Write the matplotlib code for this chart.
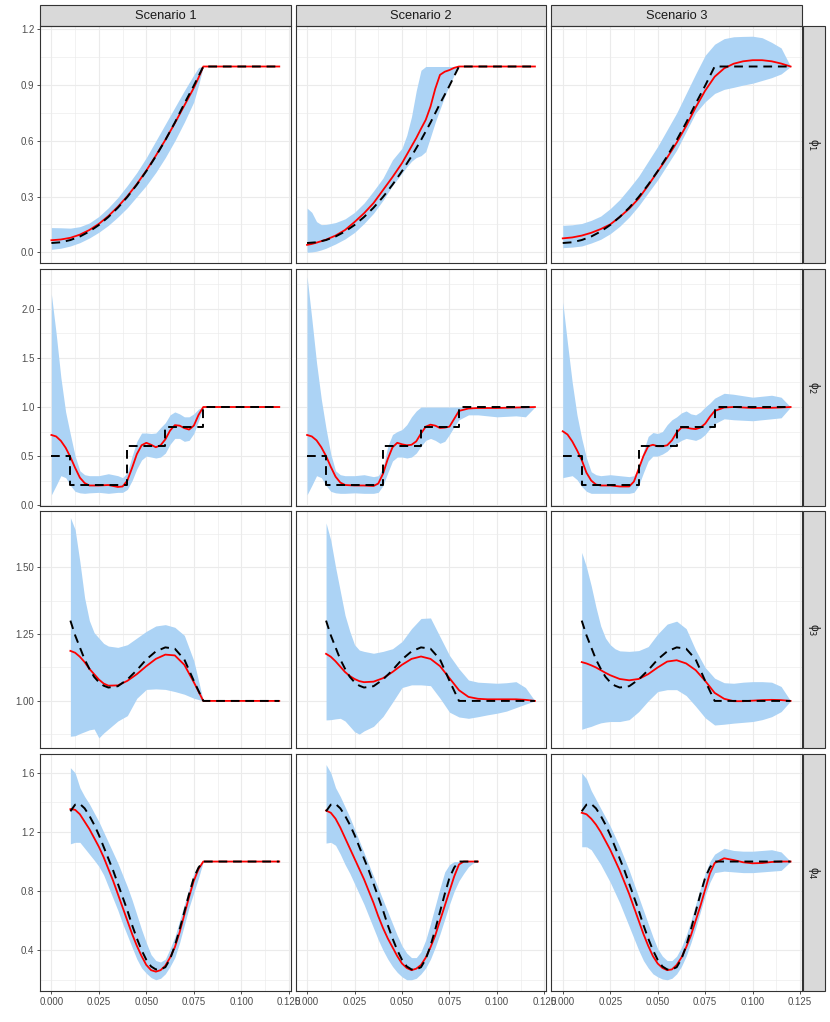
import matplotlib.pyplot as plt
from matplotlib.patches import Rectangle
import numpy as np

plt.rcParams["font.family"] = ["Liberation Sans", "DejaVu Sans"]

# =============================================================================
# Data: true curves (dashed), flat tail at 1.0 up to the end of each scenario
# =============================================================================

phi1_x = [0, 0.005, 0.01, 0.015, 0.02, 0.025, 0.03, 0.035, 0.04, 0.045, 0.05,
          0.055, 0.06, 0.065, 0.07, 0.075, 0.08]
phi1_y = [0.050, 0.054, 0.066, 0.085, 0.112, 0.147, 0.19, 0.24, 0.298, 0.364,
          0.437, 0.517, 0.604, 0.698, 0.8, 0.897, 1.0]

phi2_x = [0, 0.01, 0.04, 0.06, 0.08]
phi2_y = [0.5, 0.2, 0.6, 0.8, 1.0]

phi3_x = [0.01, 0.0125, 0.015, 0.0175, 0.02, 0.0225, 0.025, 0.0275, 0.03, 0.035,
          0.04, 0.045, 0.05, 0.055, 0.06, 0.065, 0.07, 0.075, 0.08]
phi3_y = [1.30, 1.245, 1.20, 1.155, 1.12, 1.09, 1.07, 1.057, 1.05, 1.055, 1.08,
          1.115, 1.155, 1.185, 1.2, 1.195, 1.155, 1.075, 1.0]

phi4_x = [0.01, 0.0125, 0.015, 0.0175, 0.02, 0.0225, 0.025, 0.0275, 0.03, 0.0325,
          0.035, 0.0375, 0.04, 0.0425, 0.045, 0.0475, 0.05, 0.0525, 0.055, 0.0575,
          0.06, 0.0625, 0.065, 0.0675, 0.07, 0.0725, 0.075, 0.0775, 0.08]
phi4_y = [1.34, 1.385, 1.39, 1.36, 1.31, 1.25, 1.18, 1.1, 1.02, 0.94, 0.85, 0.76,
          0.67, 0.57, 0.48, 0.4, 0.335, 0.29, 0.27, 0.27, 0.285, 0.34, 0.43, 0.54,
          0.66, 0.78, 0.89, 0.96, 1.0]

true_tail_y = 1.0
true_end = [[0.12, 0.12, 0.12],
            [0.12, 0.12, 0.12],
            [0.12, 0.12, 0.12],
            [0.12, 0.09, 0.12]]

# =============================================================================
# Data: estimates (red) and bands (blue), row r / scenario s -> p{r}{s}
# =============================================================================

# phi 1
p11_x = [0, 0.005, 0.01, 0.015, 0.02, 0.025, 0.03, 0.035, 0.04, 0.045, 0.05,
         0.055, 0.06, 0.065, 0.07, 0.075, 0.0775, 0.08, 0.12]
p11_est = [0.065, 0.069, 0.078, 0.095, 0.12, 0.153, 0.195, 0.245, 0.302, 0.367,
           0.44, 0.52, 0.605, 0.695, 0.79, 0.885, 0.94, 1.0, 1.0]
p11_lo = [0.016, 0.022, 0.034, 0.052, 0.077, 0.108, 0.145, 0.19, 0.24, 0.3, 0.36,
          0.43, 0.51, 0.6, 0.7, 0.81, 0.9, 1.0, 1.0]
p11_hi = [0.133, 0.132, 0.13, 0.138, 0.158, 0.193, 0.24, 0.295, 0.36, 0.43, 0.51,
          0.6, 0.69, 0.78, 0.87, 0.955, 0.995, 1.0, 1.0]

p12_x = [0, 0.0025, 0.005, 0.0075, 0.01, 0.015, 0.02, 0.025, 0.03, 0.035, 0.04,
         0.045, 0.05, 0.0525, 0.055, 0.0575, 0.06, 0.0625, 0.065, 0.0675, 0.07,
         0.0725, 0.075, 0.0775, 0.08, 0.12]
p12_est = [0.04, 0.045, 0.052, 0.06, 0.068, 0.09, 0.12, 0.163, 0.21, 0.265, 0.335,
           0.405, 0.48, 0.525, 0.57, 0.615, 0.665, 0.713, 0.784, 0.88, 0.955,
           0.972, 0.981, 0.993, 1.0, 1.0]
p12_lo = [0.0, 0.002, 0.006, 0.013, 0.022, 0.045, 0.072, 0.107, 0.155, 0.21, 0.28,
          0.36, 0.426, 0.46, 0.49, 0.51, 0.52, 0.542, 0.62, 0.7, 0.77, 0.84, 0.9,
          0.955, 1.0, 1.0]
p12_hi = [0.238, 0.215, 0.165, 0.149, 0.15, 0.16, 0.18, 0.215, 0.265, 0.33, 0.4,
          0.498, 0.56, 0.63, 0.73, 0.87, 0.98, 1.0, 1.0, 1.0, 1.0, 1.0, 1.0, 1.0,
          1.0, 1.0]

p13_x = [0, 0.005, 0.01, 0.015, 0.02, 0.025, 0.03, 0.035, 0.04, 0.045, 0.05,
         0.055, 0.06, 0.065, 0.07, 0.075, 0.08, 0.085, 0.09, 0.095, 0.1, 0.105,
         0.11, 0.115, 0.12]
p13_est = [0.075, 0.08, 0.09, 0.105, 0.125, 0.15, 0.19, 0.235, 0.29, 0.36, 0.435,
           0.51, 0.59, 0.68, 0.78, 0.87, 0.945, 0.99, 1.015, 1.028, 1.034, 1.034,
           1.028, 1.016, 1.0]
p13_lo = [0.025, 0.028, 0.034, 0.05, 0.07, 0.1, 0.14, 0.19, 0.25, 0.32, 0.39, 0.47,
          0.55, 0.65, 0.75, 0.81, 0.855, 0.877, 0.888, 0.9, 0.91, 0.925, 0.94,
          0.96, 1.0]
p13_hi = [0.145, 0.148, 0.155, 0.172, 0.195, 0.235, 0.284, 0.345, 0.41, 0.49,
          0.57, 0.66, 0.75, 0.855, 0.96, 1.06, 1.12, 1.15, 1.16, 1.162, 1.163,
          1.155, 1.13, 1.1, 1.0]

# phi 2
p21_x = [0, 0.0025, 0.005, 0.0075, 0.01, 0.0125, 0.015, 0.0175, 0.02, 0.025, 0.03,
         0.035, 0.0375, 0.04, 0.0425, 0.045, 0.0475, 0.05, 0.0525, 0.055, 0.0575,
         0.06, 0.0625, 0.065, 0.0675, 0.07, 0.0725, 0.075, 0.0775, 0.08, 0.12]
p21_est = [0.715, 0.70, 0.655, 0.585, 0.49, 0.38, 0.28, 0.225, 0.2, 0.2, 0.205,
           0.185, 0.19, 0.25, 0.38, 0.52, 0.61, 0.635, 0.615, 0.59, 0.61, 0.67,
           0.76, 0.815, 0.81, 0.785, 0.77, 0.81, 0.92, 1.0, 1.0]
p21_lo = [0.105, 0.2, 0.3, 0.28, 0.2, 0.14, 0.125, 0.12, 0.125, 0.13, 0.12, 0.13,
          0.13, 0.16, 0.25, 0.37, 0.46, 0.5, 0.49, 0.48, 0.49, 0.53, 0.62, 0.68,
          0.68, 0.65, 0.66, 0.73, 0.86, 1.0, 1.0]
p21_hi = [2.15, 1.75, 1.3, 0.95, 0.72, 0.5, 0.35, 0.31, 0.3, 0.3, 0.32, 0.3, 0.28,
          0.33, 0.5, 0.65, 0.735, 0.735, 0.73, 0.735, 0.79, 0.84, 0.92, 0.95, 0.93,
          0.9, 0.9, 0.93, 0.98, 1.0, 1.0]

p22_x = [0, 0.0025, 0.005, 0.0075, 0.01, 0.0125, 0.015, 0.0175, 0.02, 0.025, 0.03,
         0.035, 0.0375, 0.04, 0.0425, 0.045, 0.0475, 0.05, 0.0525, 0.055, 0.0575,
         0.06, 0.0625, 0.065, 0.0675, 0.07, 0.0725, 0.075, 0.0775, 0.08, 0.085,
         0.09, 0.1, 0.11, 0.115, 0.12]
p22_est = [0.715, 0.70, 0.66, 0.59, 0.5, 0.39, 0.29, 0.23, 0.205, 0.2, 0.2, 0.195,
           0.22, 0.32, 0.47, 0.59, 0.635, 0.62, 0.61, 0.615, 0.65, 0.73, 0.8, 0.82,
           0.81, 0.786, 0.79, 0.8, 0.88, 0.96, 0.985, 0.99, 0.99, 0.995, 0.997, 1.0]
p22_lo = [0.105, 0.2, 0.3, 0.28, 0.2, 0.14, 0.125, 0.12, 0.12, 0.125, 0.12, 0.12,
          0.13, 0.2, 0.33, 0.45, 0.49, 0.49, 0.48, 0.49, 0.53, 0.6, 0.66, 0.68,
          0.66, 0.63, 0.65, 0.72, 0.8, 0.87, 0.92, 0.92, 0.9, 0.91, 0.9, 1.0]
p22_hi = [2.33, 1.9, 1.45, 1.08, 0.78, 0.52, 0.35, 0.31, 0.3, 0.3, 0.31, 0.29, 0.3,
          0.38, 0.6, 0.72, 0.75, 0.77, 0.82, 0.9, 0.96, 1.0, 1.0, 1.0, 1.0, 1.0,
          1.0, 1.0, 1.0, 1.0, 1.0, 1.0, 1.0, 1.0, 1.0, 1.0]

p23_x = p22_x
p23_est = [0.753, 0.72, 0.65, 0.56, 0.46, 0.33, 0.25, 0.21, 0.2, 0.2, 0.19, 0.19,
           0.24, 0.37, 0.5, 0.6, 0.615, 0.6, 0.6, 0.61, 0.66, 0.74, 0.79, 0.79,
           0.78, 0.775, 0.79, 0.83, 0.9, 0.96, 0.995, 1.0, 0.99, 0.992, 0.995, 1.0]
p23_lo = [0.28, 0.29, 0.3, 0.26, 0.19, 0.14, 0.12, 0.12, 0.12, 0.12, 0.12, 0.12,
          0.13, 0.2, 0.33, 0.45, 0.5, 0.5, 0.52, 0.55, 0.6, 0.63, 0.66, 0.68, 0.67,
          0.66, 0.68, 0.72, 0.78, 0.83, 0.88, 0.87, 0.86, 0.88, 0.89, 1.0]
p23_hi = [2.07, 1.65, 1.25, 0.92, 0.68, 0.48, 0.34, 0.31, 0.3, 0.31, 0.3, 0.29, 0.3,
          0.37, 0.55, 0.7, 0.74, 0.73, 0.75, 0.82, 0.87, 0.9, 0.94, 0.96, 0.93,
          0.92, 0.95, 1.0, 1.04, 1.09, 1.14, 1.13, 1.1, 1.12, 1.1, 1.0]

# phi 3
p31_x = [0.01, 0.0125, 0.015, 0.0175, 0.02, 0.0225, 0.025, 0.0275, 0.03, 0.035,
         0.04, 0.045, 0.05, 0.055, 0.06, 0.065, 0.07, 0.075, 0.08, 0.12]
p31_est = [1.187, 1.18, 1.165, 1.145, 1.12, 1.1, 1.08, 1.065, 1.057, 1.058, 1.075,
           1.1, 1.13, 1.157, 1.173, 1.17, 1.135, 1.07, 1.0, 1.0]
p31_lo = [0.868, 0.87, 0.878, 0.885, 0.892, 0.895, 0.862, 0.88, 0.895, 0.925,
          0.945, 1.01, 1.043, 1.045, 1.043, 1.035, 1.025, 1.01, 1.0, 1.0]
p31_hi = [1.685, 1.64, 1.52, 1.385, 1.3, 1.255, 1.235, 1.215, 1.205, 1.2, 1.21,
          1.235, 1.26, 1.28, 1.285, 1.275, 1.245, 1.15, 1.0, 1.0]

p32_x = [0.01, 0.0125, 0.015, 0.0175, 0.02, 0.0225, 0.025, 0.0275, 0.03, 0.035,
         0.04, 0.045, 0.05, 0.055, 0.06, 0.065, 0.07, 0.075, 0.08, 0.085, 0.09,
         0.095, 0.1, 0.105, 0.11, 0.115, 0.12]
p32_est = [1.176, 1.165, 1.148, 1.128, 1.108, 1.093, 1.082, 1.074, 1.07, 1.072,
           1.085, 1.108, 1.135, 1.157, 1.166, 1.157, 1.13, 1.085, 1.04, 1.015,
           1.008, 1.006, 1.006, 1.006, 1.006, 1.004, 1.0]
p32_lo = [0.929, 0.93, 0.933, 0.935, 0.925, 0.905, 0.885, 0.876, 0.888, 0.905,
          0.942, 0.995, 1.05, 1.06, 1.06, 1.057, 1.01, 0.958, 0.94, 0.935, 0.941,
          0.948, 0.954, 0.962, 0.975, 0.988, 1.0]
p32_hi = [1.665, 1.6, 1.5, 1.41, 1.32, 1.26, 1.21, 1.19, 1.185, 1.178, 1.185,
          1.195, 1.222, 1.27, 1.308, 1.31, 1.24, 1.17, 1.12, 1.078, 1.07, 1.068,
          1.066, 1.068, 1.072, 1.05, 1.0]

p33_x = p32_x
p33_est = [1.145, 1.14, 1.133, 1.125, 1.115, 1.105, 1.096, 1.089, 1.082, 1.077,
           1.082, 1.1, 1.125, 1.147, 1.152, 1.14, 1.115, 1.075, 1.03, 1.008, 0.999,
           0.999, 1.001, 1.003, 1.004, 1.003, 1.0]
p33_lo = [0.894, 0.9, 0.905, 0.912, 0.918, 0.921, 0.923, 0.923, 0.923, 0.93, 0.96,
          1.0, 1.035, 1.042, 1.042, 1.02, 0.98, 0.937, 0.91, 0.913, 0.917, 0.92,
          0.923, 0.93, 0.941, 0.96, 1.0]
p33_hi = [1.555, 1.5, 1.43, 1.35, 1.28, 1.235, 1.21, 1.195, 1.187, 1.185, 1.188,
          1.203, 1.25, 1.287, 1.298, 1.27, 1.19, 1.125, 1.085, 1.068, 1.066, 1.07,
          1.072, 1.072, 1.07, 1.054, 1.0]

# phi 4
p41_x = phi4_x + [0.12]
p41_est = [1.355, 1.35, 1.32, 1.27, 1.22, 1.16, 1.1, 1.03, 0.95, 0.87, 0.78, 0.69,
           0.6, 0.51, 0.43, 0.36, 0.3, 0.265, 0.255, 0.265, 0.295, 0.35, 0.42,
           0.52, 0.64, 0.76, 0.87, 0.95, 1.0, 1.0]
p41_lo = [1.12, 1.13, 1.13, 1.09, 1.05, 1.01, 0.967, 0.91, 0.83, 0.75, 0.67, 0.58,
          0.5, 0.42, 0.34, 0.28, 0.244, 0.215, 0.2, 0.21, 0.24, 0.29, 0.35, 0.45,
          0.57, 0.69, 0.79, 0.89, 1.0, 1.0]
p41_hi = [1.635, 1.6, 1.5, 1.44, 1.39, 1.33, 1.27, 1.2, 1.13, 1.06, 0.99, 0.91,
          0.83, 0.74, 0.64, 0.54, 0.45, 0.37, 0.33, 0.32, 0.34, 0.41, 0.49, 0.6,
          0.71, 0.82, 0.92, 0.97, 1.0, 1.0]

p42_x = phi4_x + [0.0825, 0.085, 0.0875, 0.09]
p42_est = [1.345, 1.33, 1.29, 1.23, 1.16, 1.09, 1.02, 0.95, 0.88, 0.8, 0.72, 0.63,
           0.55, 0.48, 0.42, 0.36, 0.31, 0.28, 0.265, 0.275, 0.3, 0.35, 0.42, 0.5,
           0.6, 0.7, 0.8, 0.9, 0.98, 1.0, 1.0, 1.0, 1.0]
p42_lo = [1.125, 1.13, 1.11, 1.05, 0.98, 0.92, 0.85, 0.78, 0.71, 0.63, 0.55, 0.47,
          0.4, 0.34, 0.29, 0.25, 0.22, 0.2, 0.2, 0.21, 0.24, 0.28, 0.34, 0.42, 0.51,
          0.61, 0.71, 0.8, 0.87, 0.92, 0.965, 0.99, 1.0]
p42_hi = [1.656, 1.6, 1.5, 1.44, 1.37, 1.3, 1.22, 1.14, 1.06, 0.98, 0.9, 0.82,
          0.74, 0.66, 0.58, 0.5, 0.43, 0.38, 0.35, 0.35, 0.39, 0.47, 0.58, 0.7,
          0.82, 0.93, 0.98, 1.0, 1.0, 1.0, 1.0, 1.0, 1.0]

p43_x = phi4_x + [0.085, 0.09, 0.095, 0.1, 0.105, 0.11, 0.115, 0.12]
p43_est = [1.33, 1.32, 1.29, 1.25, 1.2, 1.14, 1.08, 1.01, 0.94, 0.86, 0.78, 0.69,
           0.6, 0.51, 0.43, 0.36, 0.31, 0.28, 0.265, 0.27, 0.3, 0.35, 0.42, 0.5,
           0.6, 0.7, 0.81, 0.92, 0.99, 1.022, 1.01, 0.995, 0.988, 0.99, 0.997, 1.0,
           1.0]
p43_lo = [1.1, 1.1, 1.08, 1.03, 0.98, 0.92, 0.86, 0.79, 0.72, 0.64, 0.56, 0.48,
          0.4, 0.33, 0.28, 0.24, 0.22, 0.205, 0.2, 0.21, 0.24, 0.29, 0.36, 0.45,
          0.55, 0.66, 0.77, 0.86, 0.925, 0.935, 0.93, 0.925, 0.925, 0.93, 0.935,
          0.94, 1.0]
p43_hi = [1.6, 1.56, 1.48, 1.42, 1.36, 1.3, 1.24, 1.17, 1.1, 1.02, 0.94, 0.85,
          0.76, 0.67, 0.58, 0.49, 0.41, 0.36, 0.33, 0.33, 0.36, 0.42, 0.5, 0.6,
          0.71, 0.82, 0.92, 1.0, 1.05, 1.09, 1.075, 1.07, 1.07, 1.075, 1.08,
          1.065, 1.0]

# =============================================================================
# Labels and axes
# =============================================================================

scenario_labels = ["Scenario 1", "Scenario 2", "Scenario 3"]
row_labels = ["ϕ$_1$", "ϕ$_2$", "ϕ$_3$", "ϕ$_4$"]

x_ticks = [0.0, 0.025, 0.05, 0.075, 0.1, 0.125]
x_tick_labels = ["0.000", "0.025", "0.050", "0.075", "0.100", "0.125"]

y_ticks = [[0.0, 0.3, 0.6, 0.9, 1.2],
           [0.0, 0.5, 1.0, 1.5, 2.0],
           [1.0, 1.25, 1.5],
           [0.4, 0.8, 1.2, 1.6]]
y_tick_labels = [["0.0", "0.3", "0.6", "0.9", "1.2"],
                 ["0.0", "0.5", "1.0", "1.5", "2.0"],
                 ["1.00", "1.25", "1.50"],
                 ["0.4", "0.8", "1.2", "1.6"]]
y_limits = [(-0.057, 1.218), (-0.005, 2.41), (0.823, 1.708), (0.124, 1.727)]

truths = [(phi1_x, phi1_y), (phi2_x, phi2_y), (phi3_x, phi3_y), (phi4_x, phi4_y)]
panels = [
    [(p11_x, p11_est, p11_lo, p11_hi), (p12_x, p12_est, p12_lo, p12_hi),
     (p13_x, p13_est, p13_lo, p13_hi)],
    [(p21_x, p21_est, p21_lo, p21_hi), (p22_x, p22_est, p22_lo, p22_hi),
     (p23_x, p23_est, p23_lo, p23_hi)],
    [(p31_x, p31_est, p31_lo, p31_hi), (p32_x, p32_est, p32_lo, p32_hi),
     (p33_x, p33_est, p33_lo, p33_hi)],
    [(p41_x, p41_est, p41_lo, p41_hi), (p42_x, p42_est, p42_lo, p42_hi),
     (p43_x, p43_est, p43_lo, p43_hi)],
]

# =============================================================================
# Plot
# =============================================================================

BAND = "#ACD3F5"
BORDER = "#333333"
GRID = "#EBEBEB"
STRIP = "#D9D9D9"

fig = plt.figure(figsize=(8.3, 10.22), dpi=100)
axes = fig.subplots(4, 3)
fig.subplots_adjust(left=40 / 830, right=802 / 830, top=1 - 26 / 1022,
                    bottom=1 - 991 / 1022, wspace=0.02, hspace=0.0245)

for r in range(4):
    for s in range(3):
        ax = axes[r, s]
        x, est, lo, hi = panels[r][s]
        tx, ty = truths[r]
        tx = list(tx) + [true_end[r][s]]
        ty = list(ty) + [true_tail_y]

        ax.fill_between(x, lo, hi, color=BAND, lw=0, zorder=2)
        ax.plot(x, est, color="red", lw=1.3, zorder=3)
        ax.plot(tx, ty, color="black", lw=1.4, dashes=(4.5, 3), zorder=4,
                drawstyle="steps-post" if r == 1 else "default")

        # ticks first, limits afterwards (set_*ticks can widen the view)
        ax.set_xticks(x_ticks)
        ax.set_xticks(np.arange(0.0125, 0.12, 0.025), minor=True)
        yt = y_ticks[r]
        ax.set_yticks(yt)
        step = yt[1] - yt[0]
        ax.set_yticks([v + step / 2 for v in [yt[0] - step] + yt], minor=True)
        ax.set_xlim(-0.006, 0.126)
        ax.set_ylim(*y_limits[r])

        ax.grid(which="major", color=GRID, lw=0.8, zorder=0)
        ax.grid(which="minor", color=GRID, lw=0.45, zorder=0)
        ax.set_axisbelow(True)
        for sp in ax.spines.values():
            sp.set_color(BORDER)
            sp.set_linewidth(0.8)

        ax.tick_params(which="minor", length=0)
        ax.tick_params(which="major", direction="out", length=2.5, width=0.6,
                       color=BORDER, labelsize=7, labelcolor="#4D4D4D", pad=1.5)
        if s == 0:
            ax.set_yticklabels(y_tick_labels[r])
        else:
            ax.tick_params(left=False, labelleft=False)
        if r == 3:
            ax.set_xticklabels(x_tick_labels)
        else:
            ax.tick_params(bottom=False, labelbottom=False)

        # strips
        if r == 0:
            h = 21 / 237
            ax.add_patch(Rectangle((0, 1), 1, h, transform=ax.transAxes,
                                   facecolor=STRIP, edgecolor=BORDER, lw=0.8,
                                   clip_on=False))
            ax.text(0.5, 1 + h / 2, scenario_labels[s], transform=ax.transAxes,
                    ha="center", va="center", fontsize=9.3, color="#1A1A1A")
        if s == 2:
            w = 22 / 251
            x0 = 1 + 1 / 251
            ax.add_patch(Rectangle((x0, 0), w, 1, transform=ax.transAxes,
                                   facecolor=STRIP, edgecolor=BORDER, lw=0.8,
                                   clip_on=False))
            ax.text(x0 + w / 2, 0.5, row_labels[r], transform=ax.transAxes,
                    ha="center", va="center", rotation=-90, fontsize=8.5,
                    color="#1A1A1A")

fig.savefig("out.png", dpi=100)
